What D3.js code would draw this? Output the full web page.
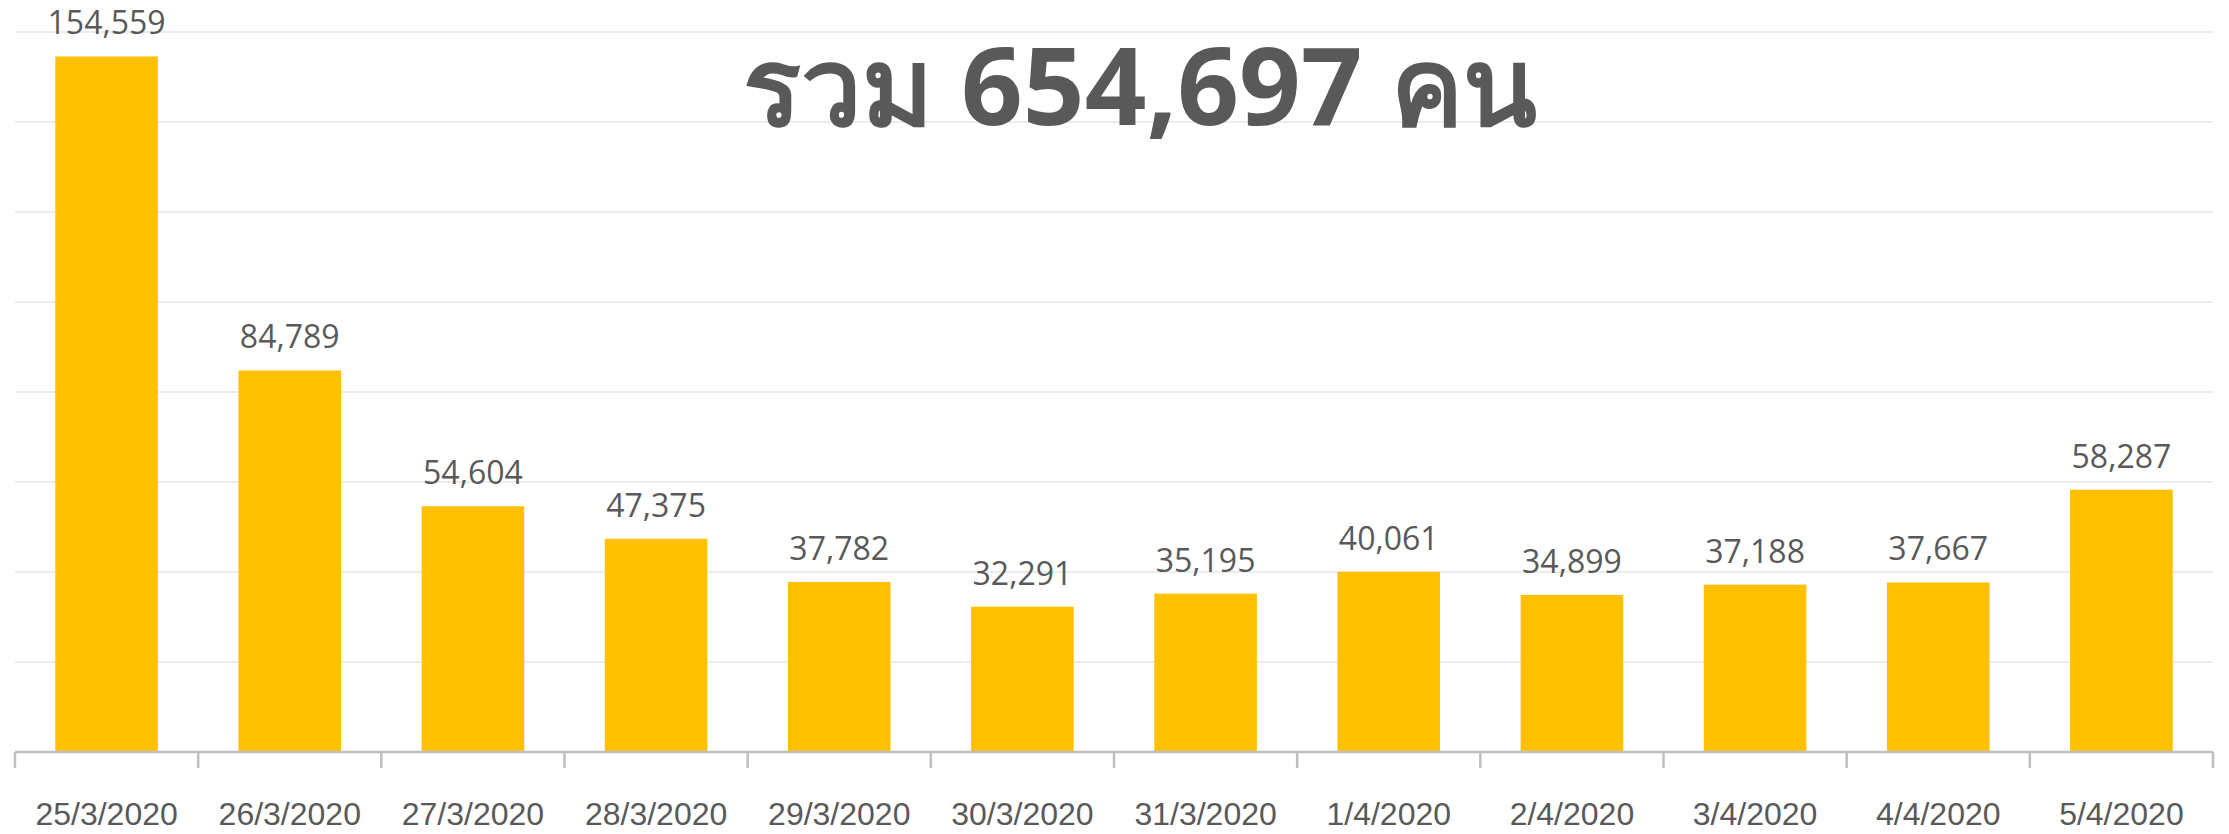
<!DOCTYPE html>
<html>
<head>
<meta charset="utf-8">
<script src="https://cdn.jsdelivr.net/npm/d3@7"></script>
<style>
  html, body { margin: 0; padding: 0; background: #fff; }
</style>
</head>
<body>
<svg width="2229" height="834"></svg>
<script>
const svg = d3.select('svg');

// data
const dates = ['25/3/2020', '26/3/2020', '27/3/2020', '28/3/2020', '29/3/2020', '30/3/2020',
    '31/3/2020', '1/4/2020', '2/4/2020', '3/4/2020', '4/4/2020', '5/4/2020'];
const people = [154559, 84789, 54604, 47375, 37782, 32291, 35195, 40061, 34899, 37188, 37667, 58287];
const gridTicks = [20000, 40000, 60000, 80000, 100000, 120000, 140000, 160000];
const title = 'รวม 654,697 คน';

const left = 15;
const right = 2213;
const baseY = 752;

// band scale, ticks sit on the band edges
const x = d3.scaleBand()
    .domain(dates)
    .range([left, right])
    .paddingInner(0.44)
    .paddingOuter(0.22);

const y = d3.scaleLinear()
    .domain([0, 160000])
    .range([baseY, 32]);

const grey = '#595959';

// gridlines
svg.append('g')
    .selectAll('line')
    .data(gridTicks)
    .join('line')
        .attr('x1', left)
        .attr('x2', right)
        .attr('y1', d => y(d))
        .attr('y2', d => y(d))
        .attr('stroke', '#ececec')
        .attr('stroke-width', 2);

// bars
svg.append('g')
    .selectAll('rect')
    .data(people)
    .join('rect')
        .attr('x', (d, i) => x(dates[i]))
        .attr('y', d => y(d))
        .attr('width', x.bandwidth())
        .attr('height', d => y(0) - y(d))
        .attr('fill', '#FFC000');

// value labels
svg.append('g')
    .selectAll('text')
    .data(people)
    .join('text')
        .attr('x', (d, i) => x(dates[i]) + x.bandwidth() / 2)
        .attr('y', d => y(d) - 22)
        .attr('text-anchor', 'middle')
        .attr('font-family', '"Open Sans", sans-serif')
        .attr('font-size', 32)
        .attr('fill', grey)
        .text(d => d3.format(',')(d));

// x axis: labels from axisBottom, edge ticks drawn by hand
const axisG = svg.append('g')
    .attr('transform', `translate(0,${baseY})`)
    .call(d3.axisBottom(x).tickSize(0).tickPadding(50));

axisG.select('.domain').remove();
axisG.selectAll('text')
    .attr('font-family', '"Liberation Sans", Arial, sans-serif')
    .attr('font-size', 32)
    .attr('fill', grey);

const step = x.step();
const edges = d3.range(dates.length + 1).map(i => left + i * step);

axisG.append('line')
    .attr('x1', left)
    .attr('x2', right)
    .attr('stroke', '#bfbfbf')
    .attr('stroke-width', 2.5);

axisG.selectAll('.edge')
    .data(edges)
    .join('line')
        .attr('class', 'edge')
        .attr('x1', d => d)
        .attr('x2', d => d)
        .attr('y1', 0)
        .attr('y2', 16)
        .attr('stroke', '#bfbfbf')
        .attr('stroke-width', 2.5);

// big total in the middle
svg.append('text')
    .attr('x', 743)
    .attr('y', 125)
    .attr('font-family', '"Noto Sans", sans-serif')
    .attr('font-weight', 'bold')
    .attr('font-size', 108)
    .attr('fill', grey)
    .text(title);
</script>
</body>
</html>
